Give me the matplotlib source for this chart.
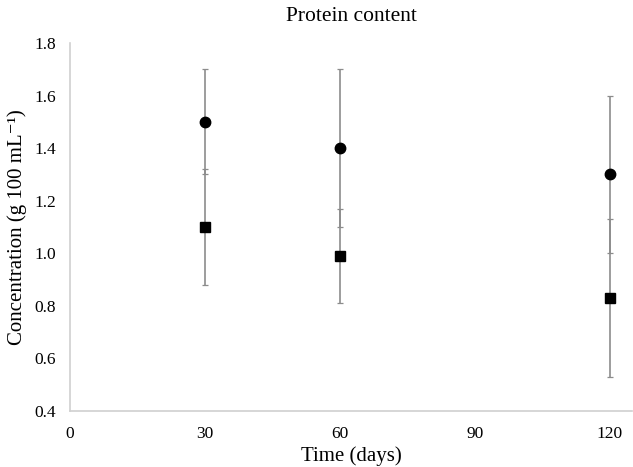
import matplotlib
matplotlib.use("Agg")
import matplotlib.pyplot as plt

days = [30, 60, 120]
circle_vals = [1.5, 1.4, 1.3]
circle_err = [0.2, 0.3, 0.3]
square_vals = [1.1, 0.99, 0.83]
square_err = [0.22, 0.18, 0.30]
x_ticks = [0, 30, 60, 90, 120]
y_ticks = [0.4, 0.6, 0.8, 1.0, 1.2, 1.4, 1.6, 1.8]

plt.rcParams["font.family"] = ["Liberation Serif", "DejaVu Serif"]

fig = plt.figure(figsize=(6.33, 4.67), dpi=100)
ax = fig.add_axes([70 / 633, 1 - 411 / 467, 562 / 633, 368 / 467])

ax.errorbar(days, circle_vals, yerr=circle_err, fmt="o", color="black",
            markersize=7.5, ecolor="#8c8c8c", elinewidth=1.2, capsize=2.5, capthick=0.9)
ax.errorbar(days, square_vals, yerr=square_err, fmt="s", color="black",
            markersize=6.8, ecolor="#8c8c8c", elinewidth=1.2, capsize=2.5, capthick=0.9)

ax.set_xlim(0, 125)
ax.set_ylim(0.4, 1.8)
ax.set_xticks(x_ticks)
ax.set_yticks(y_ticks)
ax.set_yticklabels([f"{v:.1f}" for v in y_ticks])
ax.tick_params(length=0, labelsize=12.5, pad=10)
ax.tick_params(axis="x", pad=11)

for side in ["top", "right"]:
    ax.spines[side].set_visible(False)
for side in ["left", "bottom"]:
    ax.spines[side].set_color("#d0d0d0")
    ax.spines[side].set_linewidth(1.2)

ax.set_title("Protein content", fontsize=15.5, pad=16)
ax.set_xlabel("Time (days)", fontsize=15, labelpad=3)
ax.set_ylabel("Concentration (g 100 mL\u207b\u00b9)", fontsize=15, labelpad=5)

fig.savefig("out.png", dpi=100)
